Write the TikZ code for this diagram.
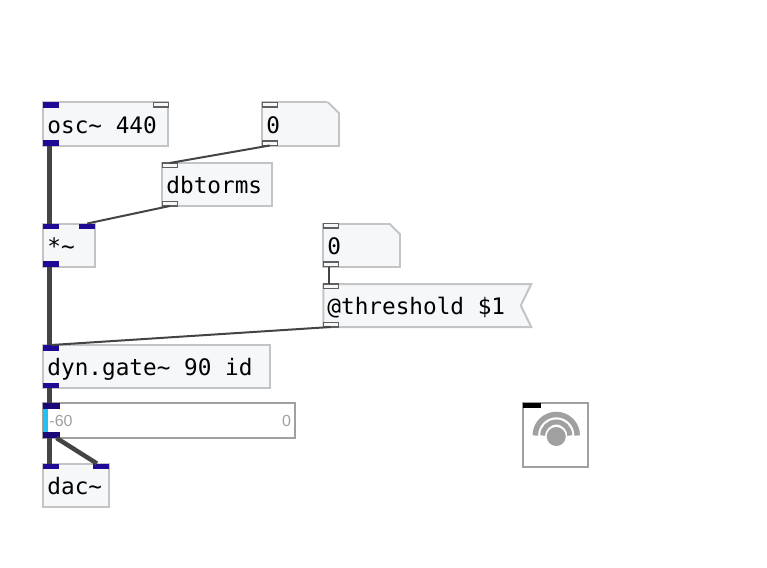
\documentclass[tikz,border=0pt]{standalone}
\usepackage{fontspec}
\setmainfont{Liberation Sans}
\setmonofont{DejaVu Sans Mono}
\usepackage{xcolor}
\usetikzlibrary{calc, shapes.symbols}
\definecolor{boxfill}{HTML}{F6F7F9}
\definecolor{boxline}{HTML}{C2C4C6}
\definecolor{wireline}{HTML}{444444}
\definecolor{sigblue}{HTML}{1F0A96}
\definecolor{metergrey}{HTML}{A0A0A0}
\definecolor{meterbar}{HTML}{22C1F1}
\newcommand{\cutcorner}[1]{%
  \fill[white] ($(#1.north east)+(-13,-2)$) -- ($(#1.north east)+(2,13)$) -- ($(#1.north east)+(2,-2)$) -- cycle;
  \draw[boxline, line width=2pt, line cap=round] ($(#1.north east)+(-11,0)$) -- ($(#1.north east)+(0,11)$);}
\begin{document}
\begin{tikzpicture}[x=1pt, y=-1pt,
    objbox/.style={draw=boxline, fill=boxfill, line width=2pt, outer sep=0pt, anchor=north west,
      minimum height=43pt, minimum width=#1, inner sep=0pt},
    msgbox/.style={objbox=#1, signal, signal from=east, signal to=nowhere, signal pointer angle=128},
    boxtext/.style={font=\ttfamily\fontsize{22.7}{24}\selectfont, anchor=west, inner xsep=4pt, inner ysep=0pt,
      text height=18pt, text depth=0pt},
    sigport/.style={fill=sigblue, outer sep=0pt, inner sep=0pt, minimum width=16pt, minimum height=5.5pt},
    ctlport/.style={draw=wireline!85, fill=boxfill, line width=1.5pt, outer sep=0pt, inner sep=0pt,
      minimum width=15pt, minimum height=4.5pt},
    meterport/.style={fill=sigblue!80!black, outer sep=0pt, inner sep=0pt, minimum width=17pt, minimum height=6pt},
    sigwire/.style={draw=wireline, line width=4.5pt},
    ctlwire/.style={draw=wireline, line width=2pt},
    metertext/.style={text=metergrey, font=\fontsize{16}{16}\selectfont, inner sep=0pt}]
    \useasboundingbox (0.25,0) rectangle (767.25,567);
    % objects
    \node (osc) [objbox=125pt] at (43.5,102.5) {};
    \node (osctext) [boxtext] at (osc.west) {osc\char126{} 440};
    \node (numa) [objbox=77pt] at (262.5,102.5) {};
    \cutcorner{numa}
    \node (numatext) [boxtext] at (numa.west) {0};
    \node (dbtorms) [objbox=110pt] at (162.5,163) {};
    \node (dbtext) [boxtext] at (dbtorms.west) {dbtorms};
    \node (mul) [objbox=52pt] at (43.5,223.5) {};
    \node (multext) [boxtext] at (mul.west) {*\char126};
    \node (numb) [objbox=77pt] at (323.5,223.5) {};
    \cutcorner{numb}
    \node (numbtext) [boxtext] at (numb.west) {0};
    \node (thresh) [msgbox=208pt] at (323.5,284) {};
    \node (threshtext) [boxtext] at (thresh.west) {@threshold \$1};
    \node (gate) [objbox=227pt] at (43.5,345) {};
    \node (gatetext) [boxtext] at (gate.west) {dyn.gate\char126{} 90 id};
    \node (meter) [draw=metergrey, fill=white, line width=2pt, outer sep=0pt, anchor=north west,
      minimum width=252pt, minimum height=35pt] at (43.5,403) {};
    \node (dac) [objbox=66pt] at (43.5,463.5) {};
    \node (dactext) [boxtext] at (dac.west) {dac\char126};
    \node (ezdac) [draw=metergrey, fill=white, line width=2pt, outer sep=0pt, anchor=north west,
      minimum width=65pt, minimum height=64pt] at (523.5,403) {};
    % meter bar and labels
    \node (bar) [fill=meterbar, inner sep=0pt, minimum width=5pt, minimum height=28pt, anchor=west]
      at (meter.west) {};
    \node (lo) [metertext, anchor=west] at (49.5,421) {-60};
    \node (hi) [metertext, anchor=east] at (291.5,421) {0};
    % ezdac icon
    \node (dot) [fill=metergrey, circle, inner sep=0pt, minimum size=19pt] at (556.5,436.5) {};
    \draw[metergrey, line width=5.5pt] (577.5,435.5) arc[start angle=0, end angle=180, radius=21pt];
    \draw[metergrey, line width=5pt] (570,435.5) arc[start angle=0, end angle=180, radius=13.5pt];
    % patch cords
    \coordinate (oscwire) at ($(osc.south west)+(6,0)$);
    \coordinate (mulwire) at ($(mul.north west)+(6,0)$);
    \coordinate (muloutwire) at ($(mul.south west)+(6,0)$);
    \coordinate (gatewire) at ($(gate.north west)+(6,0)$);
    \coordinate (gateoutwire) at ($(gate.south west)+(6,0)$);
    \coordinate (meterwire) at ($(meter.north west)+(6,0)$);
    \coordinate (meteroutwire) at ($(meter.south west)+(6,0)$);
    \coordinate (dacwire) at ($(dac.north west)+(6,0)$);
    \draw[sigwire] (oscwire) -- (mulwire);
    \draw[sigwire] (muloutwire) -- (gatewire);
    \draw[sigwire] (gateoutwire) -- (meterwire);
    \draw[sigwire] (meteroutwire) -- (dacwire);
    % inlets and outlets
    \node (oscin) [sigport, anchor=north west] at (osc.north west) {};
    \node (oscctl) [ctlport, anchor=north east] at (osc.north east) {};
    \node (oscout) [sigport, anchor=south west] at (osc.south west) {};
    \node (numain) [ctlport, anchor=north west] at (numa.north west) {};
    \node (numaout) [ctlport, anchor=south west] at (numa.south west) {};
    \node (dbin) [ctlport, anchor=north west] at (dbtorms.north west) {};
    \node (dbout) [ctlport, anchor=south west] at (dbtorms.south west) {};
    \node (mula) [sigport, anchor=north west] at (mul.north west) {};
    \node (mulb) [sigport, anchor=north east] at (mul.north east) {};
    \node (mulout) [sigport, anchor=south west] at (mul.south west) {};
    \node (numbin) [ctlport, anchor=north west] at (numb.north west) {};
    \node (numbout) [ctlport, anchor=south west] at (numb.south west) {};
    \node (threshin) [ctlport, anchor=north west] at (thresh.north west) {};
    \node (threshout) [ctlport, anchor=south west] at (thresh.south west) {};
    \node (gatein) [sigport, anchor=north west] at (gate.north west) {};
    \node (gateout) [sigport, anchor=south west] at (gate.south west) {};
    \node (meterin) [meterport, anchor=north west] at (meter.north west) {};
    \node (meterout) [meterport, anchor=south west] at (meter.south west) {};
    \node (daca) [sigport, anchor=north west] at (dac.north west) {};
    \node (dacb) [sigport, anchor=north east] at (dac.north east) {};
    \node (ezin) [fill=black, inner sep=0pt, minimum width=18pt, minimum height=5pt, anchor=north west]
      at (ezdac.north west) {};
    \draw[sigwire] (meterout) -- (dacb);
    \draw[ctlwire] (numaout.south) -- (dbin.north);
    \draw[ctlwire] (dbout.south) -- (mulb.north);
    \draw[ctlwire] ([xshift=-1.5pt]numbout.south) -- ([xshift=-1.5pt]threshin.north);
    \draw[ctlwire] (threshout.south) -- (gatein.north);
\end{tikzpicture}
\end{document}
